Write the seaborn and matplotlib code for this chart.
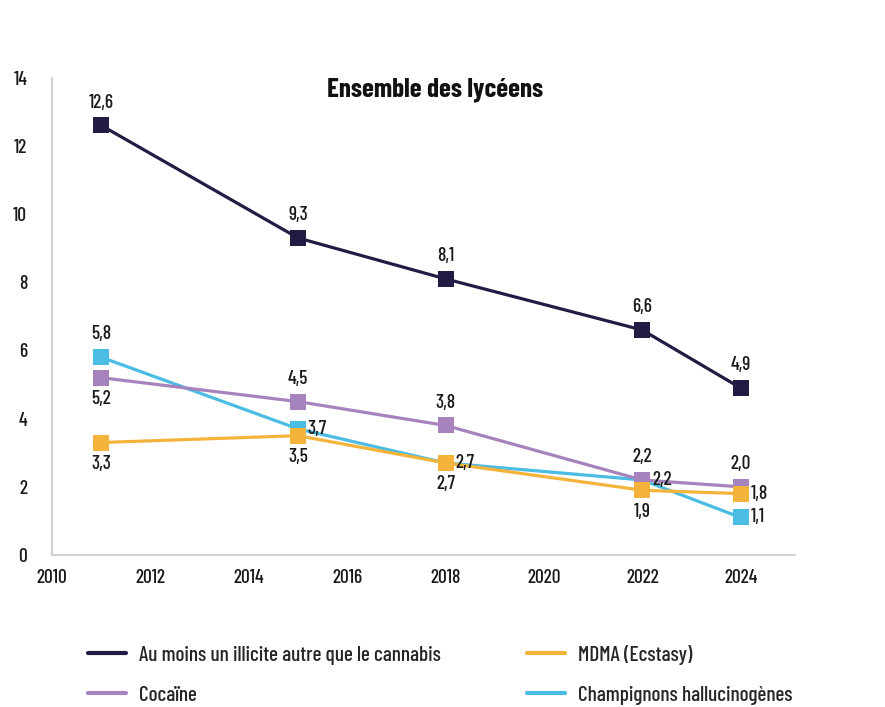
import matplotlib
matplotlib.use("Agg")
import matplotlib.pyplot as plt
import pandas as pd
import seaborn as sns

# données (en %)
annees = [2011, 2015, 2018, 2022, 2024]
series = ["Au moins un illicite autre que le cannabis", "MDMA (Ecstasy)",
          "Cocaïne", "Champignons hallucinogènes"]
illicite = [12.6, 9.3, 8.1, 6.6, 4.9]
mdma = [3.3, 3.5, 2.7, 1.9, 1.8]
cocaine = [5.2, 4.5, 3.8, 2.2, 2.0]
champignons = [5.8, 3.7, 2.7, 2.2, 1.1]
couleurs = ["#221C45", "#F4B33A", "#A783BE", "#4BBCE4"]

# position des étiquettes: a=au-dessus, b=en dessous, d=à droite
pos_labels = [
    ["a", "a", "a", "a", "a"],
    ["b", "b", "b", "b", "d"],
    ["b", "a", "a", "a", "a"],
    ["a", "d", "d", "d", "d"],
]

sns.set_theme(style="white")
plt.rcParams["font.family"] = ["Barlow Condensed", "Roboto Condensed", "DejaVu Sans"]
plt.rcParams["font.weight"] = 500

valeurs = [illicite, mdma, cocaine, champignons]
df = pd.DataFrame({
    "annee": annees * len(series),
    "valeur": sum(valeurs, []),
    "serie": [s for s in series for _ in annees],
})

fig = plt.figure(figsize=(8.85, 7.07), dpi=100)
ax = fig.add_axes([0.059, 0.215, 0.839, 0.675])

# ordre de tracé: champignons dessous, puis cocaïne, MDMA, illicite
for z, i in enumerate([3, 2, 1, 0]):
    sub = df[df["serie"] == series[i]]
    sns.lineplot(data=sub, x="annee", y="valeur", ax=ax, color=couleurs[i],
                 marker="s", markersize=11, markeredgewidth=0, linewidth=2.3,
                 legend=False, zorder=3 + z)

offsets = {"a": (0, 10, "center", "bottom"),
           "b": (0, -9, "center", "top"),
           "d": (7, 0, "left", "center")}
for i, vals in enumerate(valeurs):
    for x, v, p in zip(annees, vals, pos_labels[i]):
        dx, dy, ha, va = offsets[p]
        ax.annotate(f"{v:.1f}".replace(".", ","), (x, v), xytext=(dx, dy),
                    textcoords="offset points", ha=ha, va=va,
                    fontsize=14, color="#1a1a1a", zorder=10)

ax.set_xlim(2010, 2025.1)
ax.set_ylim(0, 14)
ax.set_xticks(range(2010, 2025, 2))
ax.set_yticks(range(0, 15, 2))
ax.set_xlabel("")
ax.set_ylabel("")
ax.tick_params(axis="both", labelsize=14, colors="#1a1a1a", length=0)
ax.tick_params(axis="y", pad=18)
ax.tick_params(axis="x", pad=10)
for s in ["top", "right"]:
    ax.spines[s].set_visible(False)
for s in ["left", "bottom"]:
    ax.spines[s].set_color("#c8c8c8")
    ax.spines[s].set_linewidth(1.2)

ax.text(0.515, 1.0, "Ensemble des lycéens", transform=ax.transAxes,
        ha="center", va="top", fontsize=19.5, fontweight="bold", color="#111111")

# légende en bas, deux colonnes placées à la main
def legende(idx, x):
    h = [plt.Line2D([], [], color=couleurs[i], linewidth=3) for i in idx]
    leg = fig.legend(h, [series[i] for i in idx], loc="lower left",
                     bbox_to_anchor=(x, -0.024), frameon=False, fontsize=15.3,
                     handlelength=1.8, labelspacing=1.0, handletextpad=0.6)
    return leg

legende([0, 2], 0.078)
legende([1, 3], 0.574)

fig.savefig("out.png", dpi=100)
